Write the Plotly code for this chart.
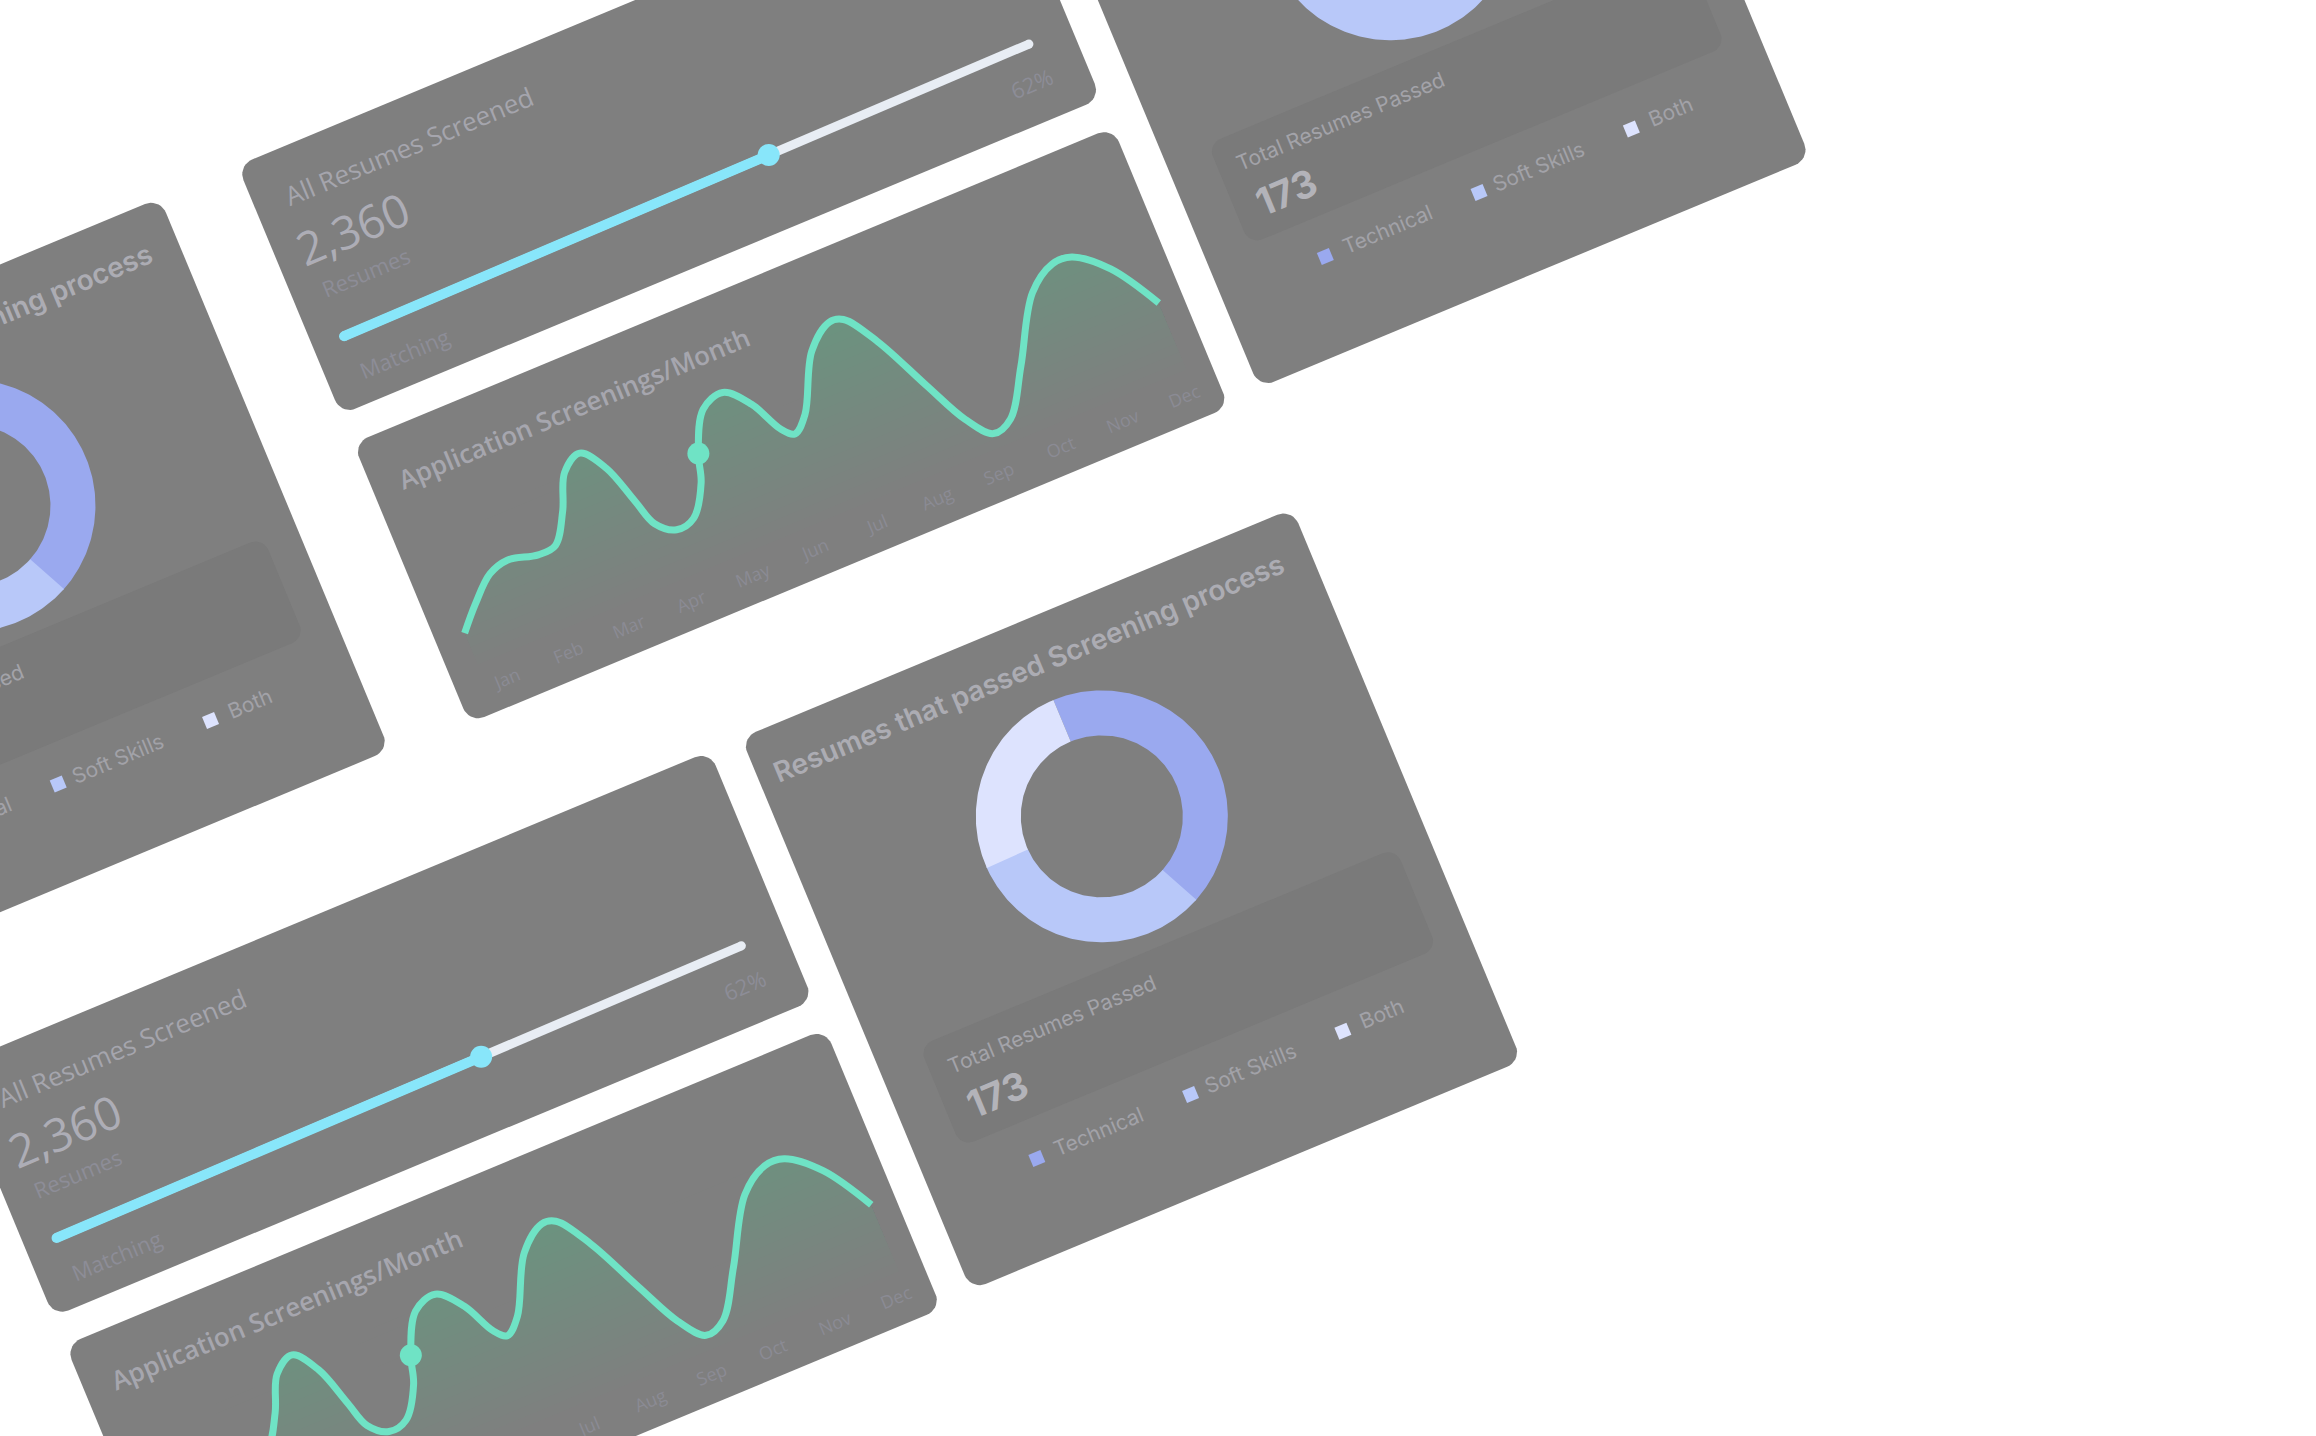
import numpy as np
import plotly.graph_objects as go

# ---------------- data ----------------
months = ["Jan", "Feb", "Mar", "Apr", "May", "Jun", "Jul", "Aug", "Sep", "Oct", "Nov", "Dec"]
# screenings curve: position in month units (Jan = 0) and value
curve_pos = [-0.32, 0.00, 0.37, 0.69, 1.15, 1.44, 1.74, 1.99, 2.31, 2.59, 2.80, 2.94,
             3.21, 3.51, 3.82, 3.95, 4.27, 4.64, 4.97, 5.23, 5.40, 5.65, 6.11, 6.52,
             6.73, 7.08, 7.50, 7.84, 8.15, 8.47, 8.92, 9.50, 9.94, 10.25, 10.72, 11.19]
curve_val = [32, 55, 77, 83, 76, 78, 107, 142, 154, 130, 88, 60,
             46, 50, 80, 108, 147, 155, 133, 99, 89, 103, 159, 179,
             176, 142, 83, 37, 13, 20, 65, 128, 147, 146, 120, 70]
highlight_point = 15

resumes_screened = 2360
matching_pct = 62

donut_labels = ["Technical", "Soft Skills", "Both"]
donut_values = [74, 55, 44]
total_passed = 173

# ---------------- styles / layout constants ----------------
W, H = 2316, 1436
ANG = 22.6
TH = np.deg2rad(ANG)
CO, SI = np.cos(TH), np.sin(TH)
OX, OY = 741.0, 738.0

CARD = "#7f7f7f"
PANEL = "#7a7a7a"
TRACK = "#e8edf4"
CYAN = "#88e6fa"
MINT = "#6fe3c5"
DIM = "#8d8d97"
MONTHCOL = "#8b8b94"
donut_colors = ["#9aa9ef", "#b8c8f9", "#dde3fe"]

SLIDER_W, SLIDER_H = 823, 270
LINE_W, LINE_H = 823, 303
DONUT_W, DONUT_H = 597, 598
R_OUT, R_IN = 126, 81

cards = [
    ("donut", -926, -722),
    ("slider", -245, -722),
    ("line", -245, -421),
    ("donut", 613, -722),
    ("slider", -857, 0),
    ("line", -857, 301),
    ("donut", 0, 0),
]


def scr(u, v):
    u = np.asarray(u, float)
    v = np.asarray(v, float)
    return OX + u * CO + v * SI, OY - u * SI + v * CO


def loc(X, Y):
    dx = np.asarray(X, float) - OX
    dy = np.asarray(Y, float) - OY
    return dx * CO - dy * SI, dx * SI + dy * CO


def rrect(u0, v0, w, h, r, n=10):
    pts = []
    for cu, cv, a0 in [(u0 + w - r, v0 + r, -90), (u0 + w - r, v0 + h - r, 0),
                       (u0 + r, v0 + h - r, 90), (u0 + r, v0 + r, 180)]:
        a = np.deg2rad(np.linspace(a0, a0 + 90, n))
        pts.append(np.c_[cu + r * np.cos(a), cv + r * np.sin(a)])
    P = np.vstack(pts)
    P = np.vstack([P, P[:1]])
    return P[:, 0], P[:, 1]


def plotly_spline(P):
    """Same smoothing plotly uses for shape='spline' (smoothing=1), evaluated densely."""
    N = len(P)
    tang = []
    for i in range(1, N - 1):
        prev, this, nxt = P[i - 1], P[i], P[i + 1]
        d1 = prev - this
        d2 = nxt - this
        d1a = np.hypot(*d1) ** 0.5
        d2a = np.hypot(*d2) ** 0.5
        num = d2a * d2a * d1 - d1a * d1a * d2
        den1 = 3 * d2a * (d1a + d2a)
        den2 = 3 * d1a * (d1a + d2a)
        tang.append((this + num / den1, this - num / den2))
    t = np.linspace(0, 1, 16)[:, None]

    def quad(a, c, b):
        return (1 - t) ** 2 * a + 2 * (1 - t) * t * c + t ** 2 * b

    def cub(a, c1, c2, b):
        return (1 - t) ** 3 * a + 3 * (1 - t) ** 2 * t * c1 + 3 * (1 - t) * t ** 2 * c2 + t ** 3 * b

    segs = [quad(P[0], tang[0][0], P[1])]
    for i in range(2, N - 1):
        segs.append(cub(P[i - 1], tang[i - 2][1], tang[i - 1][0], P[i])[1:])
    segs.append(quad(P[N - 2], tang[N - 3][1], P[N - 1])[1:])
    return np.vstack(segs)


traces = []
annots = []


def poly(u, v, color):
    X, Y = scr(u, v)
    traces.append(go.Scatter(x=X, y=Y, mode="lines", fill="toself", fillcolor=color,
                             line=dict(width=0, color=color), hoverinfo="skip"))


def text(u, v, s, size, color, family="Open Sans", weight=400):
    X, Y = scr(u, v)
    annots.append(dict(x=float(X) / W, y=1 - float(Y) / H, xref="paper", yref="paper",
                       text=s, showarrow=False, textangle=-ANG,
                       xanchor="center", yanchor="middle",
                       font=dict(family=family, size=size, color=color, weight=weight)))


def slider_card(u0, v0):
    poly(*rrect(u0, v0, SLIDER_W, SLIDER_H, 16), CARD)
    text(u0 + 166, v0 + 48, "All Resumes Screened", 26, "#a5a5ad")
    text(u0 + 82, v0 + 102, f"{resumes_screened:,}", 46, "#adadb6")
    text(u0 + 77.5, v0 + 147, "Resumes", 22, DIM)
    text(u0 + 82, v0 + 237.5, "Matching", 22, DIM)
    text(u0 + 765, v0 + 229.5, f"{matching_pct}%", 22, DIM)
    su, sv, eu, ev = u0 + 33, v0 + 198.5, u0 + 777.5, v0 + 192
    f = matching_pct / 100
    ku, kv = su + (eu - su) * f, sv + (ev - sv) * f
    X, Y = scr([su, eu], [sv, ev])
    traces.append(go.Scatter(x=X, y=Y, mode="lines+markers", line=dict(color=TRACK, width=9),
                             marker=dict(size=9, color=TRACK, line=dict(width=0)),
                             hoverinfo="skip"))
    X, Y = scr([su, ku], [sv, kv])
    traces.append(go.Scatter(x=X, y=Y, mode="lines+markers", line=dict(color=CYAN, width=10),
                             marker=dict(size=[10, 22], color=CYAN, opacity=1, line=dict(width=0)),
                             hoverinfo="skip"))


def line_card(u0, v0):
    poly(*rrect(u0, v0, LINE_W, LINE_H, 16), CARD)
    text(u0 + 218, v0 + 52, "Application Screenings/Month", 26, "#a6a6ae", weight=600)
    for i, m in enumerate(months):
        text(u0 + 51.5 + 66.7 * i, v0 + 275, m, 18, MONTHCOL)
    cu = u0 + 51.5 + 66.7 * np.array(curve_pos, float)
    cv = v0 + 250 - np.array(curve_val, float)
    X, Y = scr(cu, cv)
    D = plotly_spline(np.c_[X, Y])
    du, dv = loc(D[:, 0], D[:, 1])
    base = v0 + 252
    K = 20
    alpha = 1 - (1 - 0.24) ** (1 / K)
    for L in np.linspace(base, dv.min() + 4, K):
        vt = np.minimum(dv, L)
        pu = np.r_[du, du[::-1]]
        pv = np.r_[vt, np.full_like(du, L)]
        poly(pu, pv, f"rgba(112,226,196,{alpha:.4f})")
    traces.append(go.Scatter(x=X, y=Y, mode="lines",
                             line=dict(color=MINT, width=7, shape="spline", simplify=False),
                             hoverinfo="skip"))
    traces.append(go.Scatter(x=[X[highlight_point]], y=[Y[highlight_point]], mode="markers",
                             marker=dict(size=22, color=MINT, line=dict(width=0)),
                             hoverinfo="skip"))


def donut_card(u0, v0):
    poly(*rrect(u0, v0, DONUT_W, DONUT_H, 16), CARD)
    poly(*rrect(u0 + 46, v0 + 353, 516, 109, 14), PANEL)
    text(u0 + 293, v0 + 46.6, "Resumes that passed Screening process", 28, "#acacb3",
         family="Inter", weight=600)
    cu, cv = u0 + 303, v0 + 211
    tot = float(sum(donut_values))
    a = 0.0
    for k, (val, col) in enumerate(zip(donut_values, donut_colors)):
        span = 360 * val / tot
        extra = 0.6 if k < len(donut_values) - 1 else 0.0
        ang = np.deg2rad(np.linspace(a, a + span + extra, int(span) + 2))
        ou = cu + R_OUT * np.sin(ang)
        ov = cv - R_OUT * np.cos(ang)
        iu = cu + R_IN * np.sin(ang[::-1])
        iv = cv - R_IN * np.cos(ang[::-1])
        poly(np.r_[ou, iu], np.r_[ov, iv], col)
        a += span
    text(u0 + 177, v0 + 383.5, "Total Resumes Passed", 21, "#a3a3a9", family="Inter")
    text(u0 + 100, v0 + 427, f"{total_passed}", 38, "#b3b3b9", family="Inter", weight=700)
    sq_u = [111.5, 278, 443]
    tx_u = [179, 343, 486]
    X, Y = scr(np.array(sq_u) + u0, np.full(3, v0 + 502.0))
    traces.append(go.Scatter(x=X, y=Y, mode="markers",
                             marker=dict(symbol="square", size=13, angle=-ANG, color=donut_colors,
                                         line=dict(width=0)), hoverinfo="skip"))
    for lab, tu in zip(donut_labels, tx_u):
        text(u0 + tu, v0 + 501, lab, 21, "#a2a2a8", family="Inter")


for kind, u0, v0 in cards:
    if kind == "slider":
        slider_card(u0, v0)
    elif kind == "line":
        line_card(u0, v0)
    else:
        donut_card(u0, v0)

fig = go.Figure(traces)
fig.update_layout(
    width=W, height=H, margin=dict(l=0, r=0, t=0, b=0),
    paper_bgcolor="white", plot_bgcolor="white",
    showlegend=False, hovermode=False,
    xaxis=dict(range=[0, W], visible=False, fixedrange=True),
    yaxis=dict(range=[H, 0], visible=False, fixedrange=True),
    annotations=annots,
)
fig.write_html("out.html", config={"displayModeBar": False})
